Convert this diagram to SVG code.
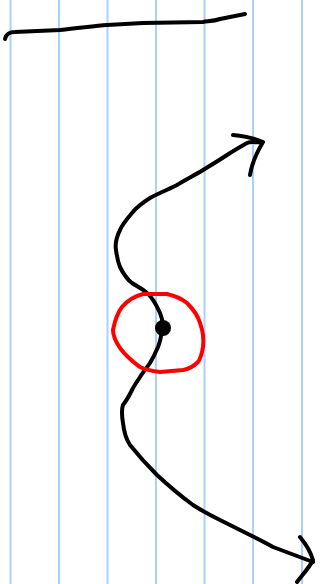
<svg xmlns="http://www.w3.org/2000/svg" width="321" height="584" viewBox="0 0 321 584">
<style>
.rule{stroke:#a9d1fb;stroke-width:2}
.ink{fill:none;stroke:#000;stroke-width:4;stroke-linecap:round;stroke-linejoin:round}
.red{fill:none;stroke:#ff0000;stroke-width:4;stroke-linecap:round;stroke-linejoin:round}
</style>
<rect width="321" height="584" fill="#fff"/>
<g id="rules">
<line class="rule" x1="10.5" y1="0" x2="10.5" y2="584"/>
<line class="rule" x1="59" y1="0" x2="59" y2="584"/>
<line class="rule" x1="107.5" y1="0" x2="107.5" y2="584"/>
<line class="rule" x1="156" y1="0" x2="156" y2="584"/>
<line class="rule" x1="204.5" y1="0" x2="204.5" y2="584"/>
<line class="rule" x1="253" y1="0" x2="253" y2="584"/>
<line class="rule" x1="302" y1="0" x2="302" y2="584"/>
</g>
<g id="top-line">
<path class="ink" d="M5,39 C6,34 9,32 15,32 L60,30 C80,28 95,26 107,25 L143,23 L203,22 C210,21 214,21 220,19 L245,14"/>
</g>
<g id="connectors">
<path class="ink" d="M262,142 C256,143 252,141 247,143 C240,147 233,151 227,155 C215,163 206,168 203,170 C195,175 185,180 177,185 C165,191 155,195 150,198 C142,203 136,208 132,213 C126,220 122,225 120,230 C116,238 115,244 116,250 C117,258 118,262 120,267 C124,275 128,280 132,283 C138,287 143,289 147,293 C153,298 156,304 160,313 C163,320 163,326 162,330 C161,338 160,342 158,347 C155,354 153,358 150,363 C146,369 143,372 140,377 C136,383 134,386 132,390 C129,396 127,400 123,405 C121,411 122,417 123,423 C124,432 126,439 130,445 C138,455 147,465 157,475 C170,487 182,497 193,505 C202,511 212,516 220,520 C230,525 240,530 250,535 C258,539 266,543 273,547 L313,562"/>
<path class="ink" d="M233,135 C243,136 252,137 263,142 C257,152 252,162 250,175"/>
<path class="ink" d="M300,537 C305,543 310,550 313,560 C309,568 303,574 297,582"/>
</g>
<g id="circle">
<path class="red" d="M113,330 C115,320 118,312 122,307 C128,300 135,296 143,294 L167,294 C176,296 182,299 187,303 C194,310 198,316 200,323 C203,331 204,339 203,347 C202,353 201,358 198,362 C193,367 189,369 183,370 L160,372 C152,371 146,370 140,367 C133,362 126,356 120,348 C116,342 113,336 113,330 Z"/>
</g>
<g id="dot">
<circle cx="163" cy="328" r="8" fill="#000"/>
</g>
</svg>
